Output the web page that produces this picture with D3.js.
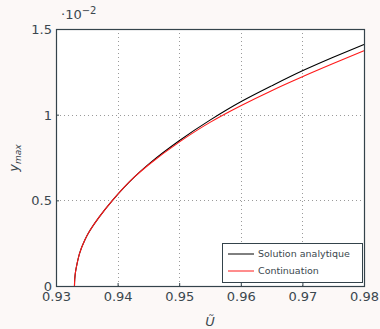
<!DOCTYPE html>
<meta charset="utf-8">
<body style="margin:0;background-color:#fcf8f7;">
<svg width="380" height="329"></svg>
<script src="https://d3js.org/d3.v7.min.js"></script>
<script>

// values (y in units of 1e-2)
var uValues = [0.9330, 0.93304, 0.93318, 0.93342, 0.9338, 0.9347, 0.9352, 0.9370, 0.93917, 0.9427, 0.9450, 0.9500, 0.9550, 0.9600, 0.9650, 0.9700, 0.9750, 0.9800];
var yAnalytique = [0, 0.04, 0.085, 0.13, 0.188, 0.27, 0.305, 0.402, 0.5, 0.636, 0.71, 0.848, 0.968, 1.075, 1.168, 1.256, 1.335, 1.41];
var yContinuation = [0, 0.04, 0.085, 0.13, 0.188, 0.27, 0.305, 0.402, 0.5, 0.635, 0.706, 0.840, 0.955, 1.052, 1.14, 1.221, 1.298, 1.373];
var xTicks = [0.93, 0.94, 0.95, 0.96, 0.97, 0.98];
var yTicks = [0, 0.5, 1, 1.5];
var seriesNames = ["Solution analytique", "Continuation"];

var svg = d3.select("svg");
var textColor = "#3b474e";
var font = "'DejaVu Sans', 'Open Sans', sans-serif";

// plot box (note: "top" is reserved on window)
var plotL = 56, plotR = 364, plotT = 29, plotB = 286;

var x = d3.scaleLinear().domain([0.93, 0.98]).range([plotL, plotR]);
var y = d3.scaleLinear().domain([0, 1.5]).range([plotB, plotT]);

svg.append('rect')
   .attr('x', plotL).attr('y', plotT)
   .attr('width', plotR - plotL).attr('height', plotB - plotT)
   .attr('fill', 'white');

// grid
var grid = svg.append('g')
              .attr('stroke', '#9a9a9a')
              .attr('stroke-width', 1)
              .attr('stroke-dasharray', '1,3');
xTicks.slice(1, -1).forEach(function(t) {
	grid.append('line')
	    .attr('x1', Math.round(x(t)) + 0.5).attr('x2', Math.round(x(t)) + 0.5)
	    .attr('y1', plotT).attr('y2', plotB);
});
yTicks.slice(1, -1).forEach(function(t) {
	grid.append('line')
	    .attr('y1', Math.round(y(t)) + 0.5).attr('y2', Math.round(y(t)) + 0.5)
	    .attr('x1', plotL).attr('x2', plotR);
});

// curves
var line = d3.line()
             .x(function(d) { return x(d[0]); })
             .y(function(d) { return y(d[1]); })
             .curve(d3.curveMonotoneY);

svg.append('path')
   .attr('d', line(d3.zip(uValues, yAnalytique)))
   .attr('fill', 'none')
   .attr('stroke', 'black')
   .attr('stroke-width', 1.1);
svg.append('path')
   .attr('d', line(d3.zip(uValues, yContinuation)))
   .attr('fill', 'none')
   .attr('stroke', '#ff1a1a')
   .attr('stroke-width', 1.1);

// axes (inward ticks)
var xAxis = svg.append('g')
               .attr('transform', 'translate(0,' + plotB + ')')
               .call(d3.axisBottom(x).tickValues(xTicks).tickSizeInner(-3).tickSizeOuter(0).tickPadding(4)
                       .tickFormat(d3.format('.2f')));
var yAxis = svg.append('g')
               .attr('transform', 'translate(' + plotL + ',0)')
               .call(d3.axisLeft(y).tickValues(yTicks).tickSizeInner(-3).tickSizeOuter(0).tickPadding(4)
                       .tickFormat(function(d) { return String(d); }));
[xAxis, yAxis].forEach(function(a) {
	a.select('.domain').remove();
	a.selectAll('line').attr('stroke', '#34434b');
	a.selectAll('text').attr('fill', textColor)
	 .style('font-family', font).style('font-size', '13px');
});
xAxis.selectAll('text').attr('y', 4).attr('dy', '0.85em');
yAxis.selectAll('text').attr('x', -4).attr('dy', '0.35em');

// frame
svg.append('rect')
   .attr('x', plotL + 0.5).attr('y', plotT + 0.5)
   .attr('width', plotR - plotL).attr('height', plotB - plotT)
   .attr('fill', 'none')
   .attr('stroke', '#34434b')
   .attr('stroke-width', 1.2);

// exponent label
var expo = svg.append('text')
              .attr('x', 61).attr('y', 19)
              .attr('fill', textColor)
              .style('font-family', font).style('font-size', '13px');
expo.append('tspan').text('\u00b710');
expo.append('tspan').attr('dy', -5).style('font-size', '10px').text('\u22122');

// axis labels
svg.append('text')
   .attr('x', 210).attr('y', 326)
   .attr('text-anchor', 'middle')
   .attr('fill', textColor)
   .style('font-family', font).style('font-size', '13px').style('font-style', 'italic')
   .text('\u0168');

var ylab = svg.append('text')
              .attr('transform', 'translate(18,158) rotate(-90)')
              .attr('text-anchor', 'middle')
              .attr('fill', textColor)
              .style('font-family', font).style('font-size', '13px').style('font-style', 'italic');
ylab.append('tspan').text('y');
ylab.append('tspan').attr('dy', 3).style('font-size', '9px').text('max');

// legend
var legend = svg.append('g').attr('transform', 'translate(222,243)');
legend.append('rect')
      .attr('x', 0.5).attr('y', 0.5)
      .attr('width', 140).attr('height', 39)
      .attr('fill', 'white')
      .attr('stroke', '#34434b')
      .attr('stroke-width', 1);
var legendColors = ['black', '#ff1a1a'];
seriesNames.forEach(function(name, i) {
	var row = legend.append('g').attr('transform', 'translate(0,' + (11 + i * 17) + ')');
	row.append('line')
	   .attr('x1', 6).attr('x2', 32)
	   .attr('y1', 0).attr('y2', 0)
	   .attr('stroke', legendColors[i]).attr('stroke-width', 1);
	row.append('text')
	   .attr('x', 36).attr('y', 0).attr('dy', '0.35em')
	   .attr('fill', textColor)
	   .style('font-family', font).style('font-size', '9.5px')
	   .text(name);
});

</script>
</body>
